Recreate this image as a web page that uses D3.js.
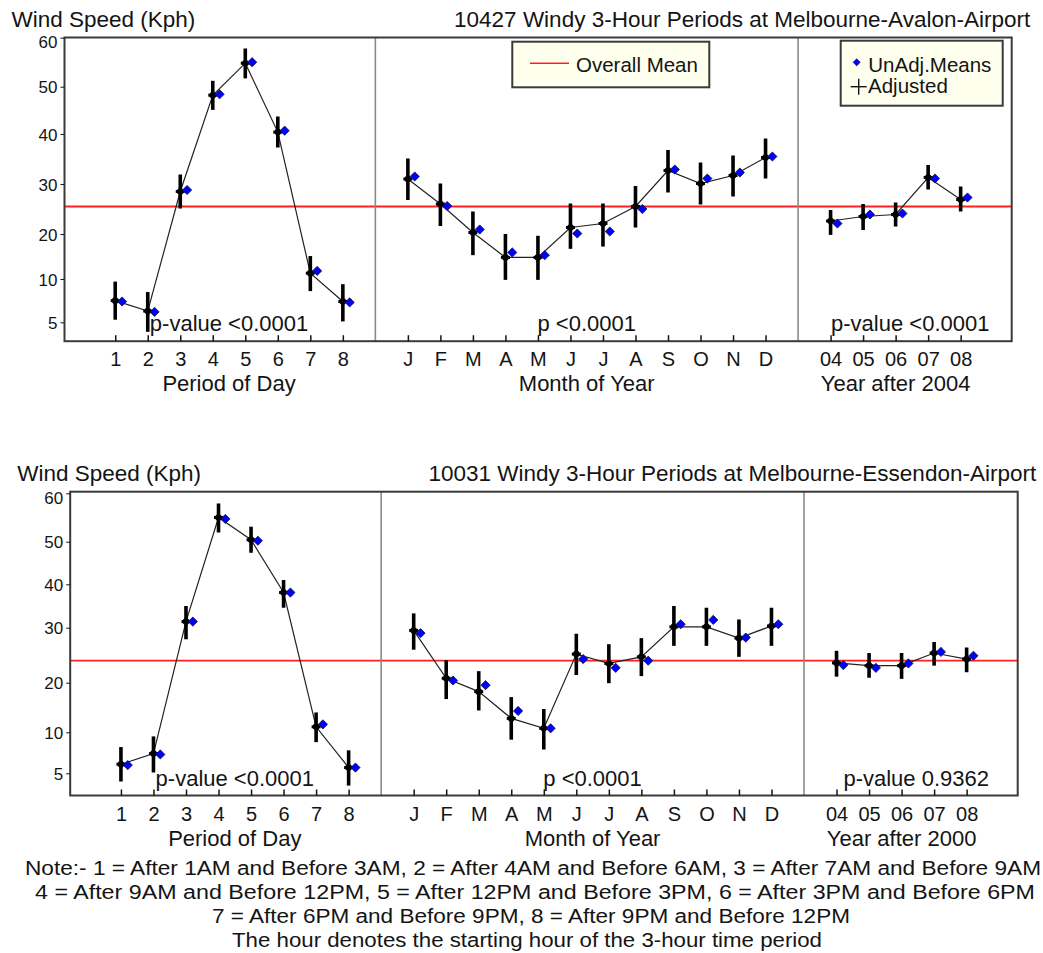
<!DOCTYPE html>
<html>
<head>
<meta charset="utf-8">
<script src="https://cdn.jsdelivr.net/npm/d3@7"></script>
<style>
  body { margin: 0; background: #fff; }
  svg { display: block; }
  text { font-family: "Liberation Sans", Arial, sans-serif; fill: #141414; }
</style>
</head>
<body>
<svg id="chart" width="1043" height="953"></svg>
<script>
// tick labels
const yTicks = [5, 10, 20, 30, 40, 50, 60];
const periods = ["1", "2", "3", "4", "5", "6", "7", "8"];
const months = ["J", "F", "M", "A", "M", "J", "J", "A", "S", "O", "N", "D"];
const years = ["04", "05", "06", "07", "08"];

// Melbourne-Avalon-Airport (top)
const avalonMean = 25.5;
const avalonPeriodAdj = [7.5, 6.3, 28.5, 48.2, 54.8, 40.4, 11.3, 7.4];
const avalonPeriodLo = [5.3, 3.9, 25.1, 45.1, 51.7, 37.3, 8.6, 5.1];
const avalonPeriodHi = [9.7, 8.5, 31.9, 51.2, 57.8, 43.7, 15.1, 9.4];
const avalonPeriodUnadj = [7.4, 6.2, 28.8, 48.4, 55.0, 40.7, 11.8, 7.3];
const avalonMonthAdj = [31.0, 26.0, 20.3, 14.8, 14.8, 21.3, 22.1, 25.5, 32.7, 30.1, 31.7, 35.3];
const avalonMonthLo = [26.8, 21.6, 15.3, 9.9, 9.9, 16.7, 17.2, 21.3, 28.3, 25.9, 27.5, 31.1];
const avalonMonthHi = [35.1, 30.1, 24.5, 20.0, 19.6, 26.1, 26.1, 29.6, 36.8, 34.3, 35.7, 39.1];
const avalonMonthUnadj = [31.5, 25.6, 20.9, 15.9, 15.3, 20.1, 20.5, 25.0, 32.9, 31.1, 32.3, 35.5];
const avalonYearAdj = [22.6, 23.5, 23.9, 31.3, 26.9];
const avalonYearLo = [19.8, 20.8, 21.5, 28.9, 24.5];
const avalonYearHi = [24.8, 26.0, 26.3, 33.8, 29.5];
const avalonYearUnadj = [22.1, 23.9, 24.1, 31.1, 27.3];

// Melbourne-Essendon-Airport (bottom)
const essendonMean = 24.0;
const essendonPeriodAdj = [6.1, 7.4, 31.4, 55.0, 50.4, 38.1, 11.1, 5.7];
const essendonPeriodLo = [4.0, 5.1, 27.9, 51.9, 47.4, 34.6, 8.8, 3.5];
const essendonPeriodHi = [8.2, 9.5, 35.0, 57.9, 53.1, 41.0, 14.0, 7.8];
const essendonPeriodUnadj = [6.0, 7.3, 31.4, 54.7, 50.2, 38.1, 11.6, 5.7];
const essendonMonthAdj = [29.5, 20.8, 18.2, 12.8, 10.8, 25.2, 23.5, 24.7, 30.2, 30.2, 28.1, 30.4];
const essendonMonthLo = [26.0, 16.7, 14.4, 9.1, 7.9, 21.4, 19.9, 21.2, 26.7, 26.7, 24.7, 26.7];
const essendonMonthHi = [33.3, 24.1, 22.1, 17.1, 14.7, 28.9, 27.0, 28.1, 35.0, 34.6, 31.9, 34.6];
const essendonMonthUnadj = [29.0, 20.4, 19.5, 14.3, 10.8, 24.3, 22.7, 24.0, 30.8, 31.8, 28.2, 30.8];
const essendonYearAdj = [23.6, 23.1, 23.1, 25.4, 24.3];
const essendonYearLo = [21.1, 20.9, 20.7, 23.1, 21.9];
const essendonYearHi = [25.8, 25.4, 25.4, 27.4, 26.4];
const essendonYearUnadj = [23.2, 22.7, 23.5, 25.6, 24.9];

const noteLines = [
  "Note:- 1 = After 1AM and Before 3AM, 2 = After 4AM and Before 6AM, 3 = After 7AM and Before 9AM",
  "4 = After 9AM and Before 12PM, 5 = After 12PM and Before 3PM, 6 = After 3PM and Before 6PM",
  "7 = After 6PM and Before 9PM, 8 = After 9PM and Before 12PM",
  "The hour denotes the starting hour of the 3-hour time period"
];

const panels = [
  {
    title: "10427 Windy 3-Hour Periods at Melbourne-Avalon-Airport",
    left: 64.5, right: 1011.7, top: 37.5, bottom: 341.2,
    tickY: [322.3, 279, 234, 184, 134, 86.7, 37.7],
    mean: avalonMean, legend: true,
    groups: [
      { labels: periods, start: 1, adj: avalonPeriodAdj, lo: avalonPeriodLo, hi: avalonPeriodHi, unadj: avalonPeriodUnadj,
        pText: "p-value <0.0001", name: "Period of Day", pShift: 0 },
      { labels: months, start: 10, adj: avalonMonthAdj, lo: avalonMonthLo, hi: avalonMonthHi, unadj: avalonMonthUnadj,
        pText: "p <0.0001", name: "Month of Year", pShift: 0 },
      { labels: years, start: 23, adj: avalonYearAdj, lo: avalonYearLo, hi: avalonYearHi, unadj: avalonYearUnadj,
        pText: "p-value <0.0001", name: "Year after 2004", pShift: 0.45 }
    ]
  },
  {
    title: "10031 Windy 3-Hour Periods at Melbourne-Essendon-Airport",
    left: 70.2, right: 1017.7, top: 491.7, bottom: 795.5,
    tickY: [773.3, 732.3, 682.7, 627.7, 584.3, 541.7, 493.3],
    mean: essendonMean, legend: false,
    groups: [
      { labels: periods, start: 1, adj: essendonPeriodAdj, lo: essendonPeriodLo, hi: essendonPeriodHi, unadj: essendonPeriodUnadj,
        pText: "p-value <0.0001", name: "Period of Day", pShift: 0 },
      { labels: months, start: 10, adj: essendonMonthAdj, lo: essendonMonthLo, hi: essendonMonthHi, unadj: essendonMonthUnadj,
        pText: "p <0.0001", name: "Month of Year", pShift: 0 },
      { labels: years, start: 23, adj: essendonYearAdj, lo: essendonYearLo, hi: essendonYearHi, unadj: essendonYearUnadj,
        pText: "p-value 0.9362", name: "Year after 2000", pShift: 0.45 }
    ]
  }
];

const svg = d3.select("#chart");
const diamond = r => `M0,${-r}L${r},0L0,${r}L${-r},0Z`;

panels.forEach(p => {
  const g = svg.append("g");

  /* one continuous x axis: periods at 1..8, months at 10..21, years at 23..27 */
  const x = d3.scaleLinear().domain([-0.56, 28.57]).range([p.left, p.right]);
  const y = d3.scaleLinear().domain(yTicks).range(p.tickY);

  // overall mean
  g.append("line")
    .attr("x1", p.left).attr("x2", p.right)
    .attr("y1", y(p.mean)).attr("y2", y(p.mean))
    .attr("stroke", "#ff1f1f").attr("stroke-width", 1.8);

  // section dividers
  [9, 22].forEach(d => {
    g.append("line")
      .attr("x1", x(d)).attr("x2", x(d))
      .attr("y1", p.top).attr("y2", p.bottom)
      .attr("stroke", "#8a8a8a").attr("stroke-width", 1.6);
  });

  g.append("rect")
    .attr("x", p.left).attr("y", p.top)
    .attr("width", p.right - p.left).attr("height", p.bottom - p.top)
    .attr("fill", "none").attr("stroke", "#3a3a3a").attr("stroke-width", 2);

  // y axis (the axis call resets font-size, so set it afterwards)
  const yAxis = g.append("g")
    .attr("transform", `translate(${p.left},0)`)
    .style("color", "#141414")
    .call(d3.axisLeft(y).tickValues(yTicks).tickSize(4).tickPadding(3));
  yAxis.attr("font-size", null);
  yAxis.select(".domain").remove();
  yAxis.selectAll("text").style("font-size", "17px")
    .attr("dy", d => d === 60 ? "0.58em" : "0.36em");   // top label sits just inside the frame

  // x axis
  const labelAt = new Map();
  p.groups.forEach(s => s.labels.forEach((l, i) => labelAt.set(s.start + i, l)));
  const xAxis = g.append("g")
    .attr("transform", `translate(0,${p.bottom})`)
    .style("color", "#141414")
    .call(d3.axisBottom(x).tickValues([...labelAt.keys()]).tickFormat(d => labelAt.get(d)).tickSize(-6).tickPadding(11));
  xAxis.attr("font-size", null);
  xAxis.select(".domain").remove();
  xAxis.selectAll("text").style("font-size", "20px");
  xAxis.selectAll(".tick line").attr("stroke-width", 1.5);

  p.groups.forEach(s => {
    const pts = s.adj.map((v, i) => ({ pos: s.start + i, adj: v, lo: s.lo[i], hi: s.hi[i], un: s.unadj[i] }));
    const center = s.start + (s.labels.length - 1) / 2;

    g.append("path").datum(pts)
      .attr("d", d3.line().x(d => x(d.pos)).y(d => y(d.adj)))
      .attr("fill", "none").attr("stroke", "#222").attr("stroke-width", 1.2);

    g.selectAll(null).data(pts).join("line")
      .attr("x1", d => x(d.pos)).attr("x2", d => x(d.pos))
      .attr("y1", d => y(d.lo)).attr("y2", d => y(d.hi))
      .attr("stroke", "#000").attr("stroke-width", 3.6);

    g.selectAll(null).data(pts).join("line")
      .attr("x1", d => x(d.pos) - 4.5).attr("x2", d => x(d.pos) + 4.5)
      .attr("y1", d => y(d.adj)).attr("y2", d => y(d.adj))
      .attr("stroke", "#000").attr("stroke-width", 3);

    g.selectAll(null).data(pts).join("circle")
      .attr("cx", d => x(d.pos)).attr("cy", d => y(d.adj)).attr("r", 3.3)
      .attr("fill", "#000");

    g.selectAll(null).data(pts).join("path")
      .attr("d", diamond(4.6))
      .attr("transform", d => `translate(${x(d.pos + 0.21)},${y(d.un)})`)
      .attr("fill", "#0000ff").attr("stroke", "#10103a").attr("stroke-width", 0.8);

    g.append("text")
      .attr("x", x(center + s.pShift)).attr("y", p.bottom - 10)
      .attr("text-anchor", "middle").style("font-size", "22px")
      .text(s.pText);

    g.append("text")
      .attr("x", x(center)).attr("y", p.bottom + 50)
      .attr("text-anchor", "middle").style("font-size", "22px")
      .text(s.name);
  });

  g.append("text")
    .attr("x", p.left - 53).attr("y", p.top - 11)
    .style("font-size", "22.5px")
    .text("Wind Speed (Kph)");

  g.append("text")
    .attr("x", p.right + 18.5).attr("y", p.top - 11)
    .attr("text-anchor", "end").style("font-size", "22.5px")
    .text(p.title);

  if (p.legend) {
    const lg = g.append("g").style("font-size", "20.5px");
    lg.append("rect")
      .attr("x", 512.3).attr("y", 41.7).attr("width", 197).attr("height", 45.6)
      .attr("fill", "#ffffee").attr("stroke", "#3a3a3a").attr("stroke-width", 2);
    lg.append("line")
      .attr("x1", 530).attr("x2", 569).attr("y1", 63.3).attr("y2", 63.3)
      .attr("stroke", "#ff1f1f").attr("stroke-width", 1.6);
    lg.append("text").attr("x", 576).attr("y", 72.3).text("Overall Mean");

    lg.append("rect")
      .attr("x", 840.7).attr("y", 40.7).attr("width", 162).attr("height", 65)
      .attr("fill", "#ffffee").attr("stroke", "#3a3a3a").attr("stroke-width", 2);
    lg.append("path")
      .attr("d", diamond(3.6)).attr("transform", "translate(856.7,62.3)")
      .attr("fill", "#0000ff").attr("stroke", "#10103a").attr("stroke-width", 0.6);
    lg.append("text").attr("x", 868.3).attr("y", 72.3).text("UnAdj.Means");
    lg.append("line")
      .attr("x1", 850.7).attr("x2", 866.7).attr("y1", 86.7).attr("y2", 86.7)
      .attr("stroke", "#141414").attr("stroke-width", 1.4);
    lg.append("line")
      .attr("x1", 858.7).attr("x2", 858.7).attr("y1", 78.7).attr("y2", 94.7)
      .attr("stroke", "#141414").attr("stroke-width", 1.4);
    lg.append("text").attr("x", 868).attr("y", 93.3).text("Adjusted");
  }
});

// footnote, a condensed face squeezed to the widths in the picture
const noteLayout = [
  { x: 25, y: 875, w: 1016 },
  { x: 35, y: 899, w: 1000 },
  { x: 212, y: 923, w: 638 },
  { x: 232, y: 947, w: 590 }
];
svg.append("g").selectAll("text").data(noteLines).join("text")
  .attr("x", (d, i) => noteLayout[i].x)
  .attr("y", (d, i) => noteLayout[i].y)
  .attr("textLength", (d, i) => noteLayout[i].w)
  .attr("lengthAdjust", "spacingAndGlyphs")
  .style("font-family", '"Liberation Sans Narrow", "Liberation Sans", Arial, sans-serif')
  .style("font-size", "19.5px")
  .text(d => d);
</script>
</body>
</html>
